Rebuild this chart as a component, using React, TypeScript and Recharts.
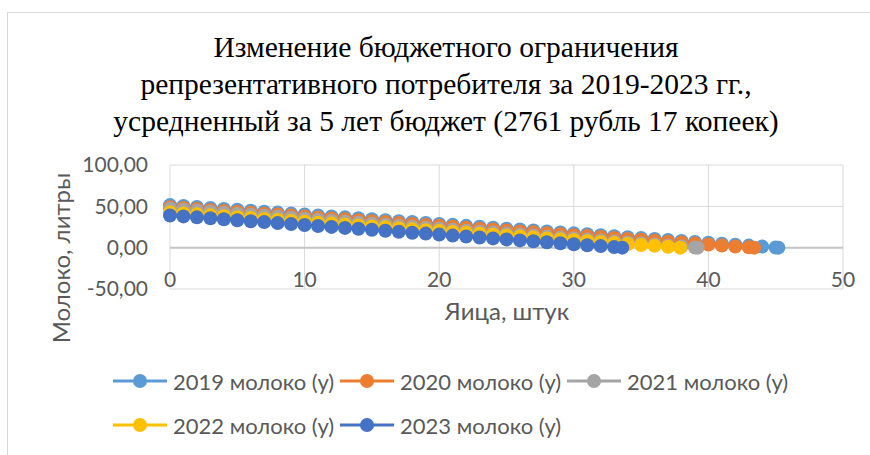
import { CartesianGrid, ReferenceLine, Scatter, ScatterChart, XAxis, YAxis } from 'recharts'

const EGGS = [
  0, 1, 2, 3, 4, 5, 6, 7, 8, 9, 10, 11, 12, 13, 14, 15, 16, 17, 18, 19, 20, 21, 22,
  23, 24, 25, 26, 27, 28, 29, 30, 31, 32, 33, 34, 35, 36, 37, 38, 39, 40, 41, 42, 43, 44, 45,
]

const MILK_2019 = [
  51.5, 50.4, 49.2, 48.1, 46.9, 45.8, 44.7, 43.5, 42.4, 41.2, 40.1, 39.0, 37.8, 36.7, 35.5, 34.4,
  33.3, 32.1, 31.0, 29.8, 28.7, 27.6, 26.4, 25.3, 24.1, 23.0, 21.9, 20.7, 19.6, 18.4, 17.3, 16.2,
  15.0, 13.9, 12.7, 11.6, 10.5, 9.3, 8.2, 7.0, 5.9, 4.8, 3.6, 2.5, 1.3, 0.2,
]
const MILK_2020 = [
  49.0, 47.9, 46.7, 45.6, 44.5, 43.4, 42.2, 41.1, 40.0, 38.8, 37.7, 36.6, 35.4, 34.3, 33.2, 32.1,
  30.9, 29.8, 28.7, 27.5, 26.4, 25.3, 24.1, 23.0, 21.9, 20.8, 19.6, 18.5, 17.4, 16.2, 15.1, 14.0,
  12.8, 11.7, 10.6, 9.5, 8.3, 7.2, 6.1, 4.9, 3.8, 2.7, 1.5, 0.4,
]
const MILK_2021 = [
  47.0, 45.8, 44.6, 43.4, 42.2, 41.0, 39.8, 38.6, 37.4, 36.2, 35.0, 33.8, 32.6, 31.4, 30.2, 29.0,
  27.8, 26.6, 25.4, 24.2, 23.0, 21.8, 20.6, 19.4, 18.2, 17.0, 15.8, 14.6, 13.4, 12.2, 11.0, 9.8,
  8.6, 7.4, 6.2, 5.0, 3.8, 2.6, 1.4, 0.2,
]
const MILK_2022 = [
  42.5, 41.4, 40.3, 39.1, 38.0, 36.9, 35.8, 34.7, 33.5, 32.4, 31.3, 30.2, 29.1, 27.9, 26.8, 25.7,
  24.6, 23.5, 22.3, 21.2, 20.1, 19.0, 17.9, 16.7, 15.6, 14.5, 13.4, 12.3, 11.1, 10.0, 8.9, 7.8,
  6.7, 5.5, 4.4, 3.3, 2.2, 1.1,
]
const MILK_2023 = [
  39.0, 37.8, 36.7, 35.5, 34.4, 33.2, 32.0, 30.9, 29.7, 28.6, 27.4, 26.2, 25.1, 23.9, 22.8, 21.6,
  20.4, 19.3, 18.1, 17.0, 15.8, 14.6, 13.5, 12.3, 11.2, 10.0, 8.8, 7.7, 6.5, 5.4, 4.2, 3.0, 1.9, 0.7,
]

// where each budget line meets the x axis (last point, milk = 0)
const INTERCEPTS = [45.2, 43.4, 39.2, 37.9, 33.6]

const SERIES_NAMES = ['2019 молоко (у)', '2020 молоко (у)', '2021 молоко (у)', '2022 молоко (у)', '2023 молоко (у)']
const SERIES_VALUES = [MILK_2019, MILK_2020, MILK_2021, MILK_2022, MILK_2023]
const COLORS = ['#5B9BD5', '#ED7D31', '#A5A5A5', '#FFC000', '#4472C4']

const X_TICKS = [0, 10, 20, 30, 40, 50]
const Y_TICKS = [-50, 0, 50, 100]

const TITLE = [
  'Изменение бюджетного ограничения',
  'репрезентативного потребителя за 2019-2023 гг.,',
  'усредненный за 5 лет бюджет (2761 рубль 17 копеек)',
]

const FONT = 'Lato, "Open Sans", sans-serif'
const TEXT = '#595959'

const series = SERIES_VALUES.map((values, s) => ({
  name: SERIES_NAMES[s],
  color: COLORS[s],
  points: [...values.map((y, i) => ({ x: EGGS[i], y })), { x: INTERCEPTS[s], y: 0 }],
}))

function comma(v: number) {
  return v.toFixed(2).replace('.', ',')
}

function XTick({ x, y, payload }: { x?: number; y?: number; payload?: { value: number } }) {
  return (
    <text x={x} y={(y ?? 0) - 4} textAnchor="middle" fill={TEXT} fontSize={21} fontFamily={FONT}>
      {payload?.value}
    </text>
  )
}

function LegendBox() {
  return (
    <div
      style={{
        position: 'absolute',
        left: 113,
        top: 369,
        display: 'flex',
        flexWrap: 'wrap',
        width: 690,
        rowGap: 20,
        fontFamily: FONT,
        fontSize: 22,
        color: TEXT,
      }}
    >
      {series.map((s) => (
        <div key={s.name} style={{ display: 'flex', alignItems: 'center', width: 227, height: 24 }}>
          <svg width={54} height={16} style={{ marginRight: 6, flex: 'none' }}>
            <line x1={0} y1={8} x2={54} y2={8} stroke={s.color} strokeWidth={3} />
            <circle cx={27} cy={8} r={7} fill={s.color} />
          </svg>
          <span style={{ whiteSpace: 'nowrap' }}>{s.name}</span>
        </div>
      ))}
    </div>
  )
}

export default function App() {
  return (
    <div style={{ position: 'absolute', left: 0, top: 0, width: 870, height: 455, background: '#fff', overflow: 'hidden' }}>
      <div
        style={{
          position: 'absolute',
          left: 7,
          top: 12,
          width: 900,
          height: 500,
          borderLeft: '1.5px solid #d9d9d9',
          borderTop: '1.5px solid #d9d9d9',
        }}
      />
      <div
        style={{
          position: 'absolute',
          left: 0,
          top: 29,
          width: 892,
          textAlign: 'center',
          fontFamily: '"Liberation Serif", "Times New Roman", serif',
          fontSize: 29.5,
          lineHeight: '37px',
          color: '#000',
        }}
      >
        {TITLE.map((line) => (
          <div key={line}>{line}</div>
        ))}
      </div>
      <div
        style={{
          position: 'absolute',
          left: 60,
          top: 258,
          transform: 'translate(-50%, -50%) rotate(-90deg)',
          whiteSpace: 'nowrap',
          fontFamily: FONT,
          fontSize: 24,
          color: TEXT,
        }}
      >
        Молоко, литры
      </div>
      <div
        style={{
          position: 'absolute',
          left: 507,
          top: 310,
          transform: 'translate(-50%, -50%)',
          whiteSpace: 'nowrap',
          fontFamily: FONT,
          fontSize: 24,
          color: TEXT,
        }}
      >
        Яица, штук
      </div>
      <div style={{ position: 'absolute', left: 0, top: 0 }}>
        <ScatterChart width={870} height={455} margin={{ top: 165, right: 27, bottom: 136, left: 0 }}>
          <CartesianGrid stroke="#d9d9d9" strokeWidth={1} />
          <XAxis
            type="number"
            dataKey="x"
            domain={[0, 50]}
            ticks={X_TICKS}
            axisLine={false}
            tickLine={false}
            tickSize={0}
            height={30}
            tick={<XTick />}
          />
          <YAxis
            type="number"
            dataKey="y"
            domain={[-50, 100]}
            ticks={Y_TICKS}
            axisLine={false}
            tickLine={false}
            tickSize={0}
            tickMargin={22}
            width={170}
            tickFormatter={comma}
            tick={{ fill: TEXT, fontSize: 21, fontFamily: FONT }}
          />
          <ReferenceLine y={0} stroke="#c4c4c4" strokeWidth={2} />
          {series.map((s) => (
            <Scatter
              key={s.name}
              name={s.name}
              data={s.points}
              fill={s.color}
              line={{ stroke: s.color, strokeWidth: 3 }}
              lineType="joint"
              isAnimationActive={false}
              shape={(p: { cx?: number; cy?: number }) => <circle cx={p.cx} cy={p.cy} r={7} fill={s.color} />}
            />
          ))}
        </ScatterChart>
      </div>
      <LegendBox />
    </div>
  )
}
